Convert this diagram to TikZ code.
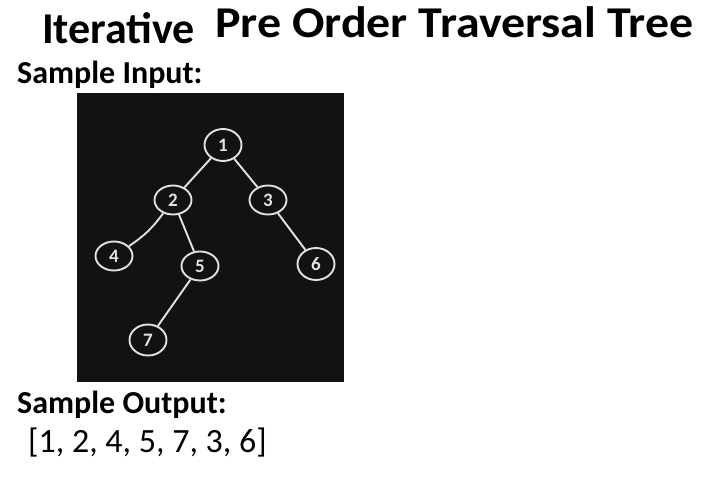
\documentclass[tikz,border=0pt]{standalone}
\usepackage{fontspec}
\setmainfont{Carlito}
\usetikzlibrary{positioning, shapes.geometric}
\definecolor{boardbg}{HTML}{121212}
\definecolor{chalk}{HTML}{E2E2E2}

\begin{document}
\begin{tikzpicture}[
    x=1pt, y=-1pt,
    node distance=50pt, on grid,
    title/.style={anchor=base west, font=\bfseries\fontsize{44}{48}\selectfont, inner sep=0pt},
    head/.style={anchor=base west, font=\bfseries\fontsize{32}{36}\selectfont, inner sep=0pt},
    tnode/.style={ellipse, draw=chalk, line width=1.9pt, text=chalk,
      minimum width=37pt, minimum height=29pt, inner sep=0pt,
      font=\bfseries\fontsize{19}{19}\selectfont},
    edge/.style={draw=chalk, line width=1.9pt},
  ]
    \useasboundingbox (0,0) rectangle (702,493);

    % heading
    \node[title] (iter) at (42,43) {Iterative};
    \node[title] (ttl) at (215,37) {\scalebox{1.09}[1]{Pre Order Traversal Tree}};
    \node[head] (inlbl) at (17,83) {Sample Input:};

    % the tree picture
    \fill[boardbg] (77,93) rectangle (344,382);
    \node[tnode, minimum height=32pt] (n1) at (223,145) {1};
    \node[tnode, below left=55pt and 50pt of n1] (n2) {2};
    \node[tnode, below right=55pt and 45pt of n1] (n3) {3};
    \node[tnode, below left=56pt and 59pt of n2] (n4) {4};
    \node[tnode, below right=66pt and 27pt of n2] (n5) {5};
    \node[tnode, below right=64pt and 48pt of n3, minimum height=32pt] (n6) {6};
    \node[tnode, below left=74pt and 52pt of n5, minimum height=31pt] (n7) {7};

    \draw[edge] (n1) -- (n2);
    \draw[edge] (n1) -- (n3);
    \draw[edge] (n2) to[bend left=10] (n4);
    \draw[edge] (n2) -- (n5);
    \draw[edge] (n3) -- (n6);
    \draw[edge] (n5) -- (n7);

    % result
    \node[head] (outlbl) at (17,413) {Sample Output:};
    \node[anchor=base west, inner sep=0pt, font=\fontsize{34}{38}\selectfont]
      (res) at (28,452) {[1, 2, 4, 5, 7, 3, 6]};
\end{tikzpicture}
\end{document}
